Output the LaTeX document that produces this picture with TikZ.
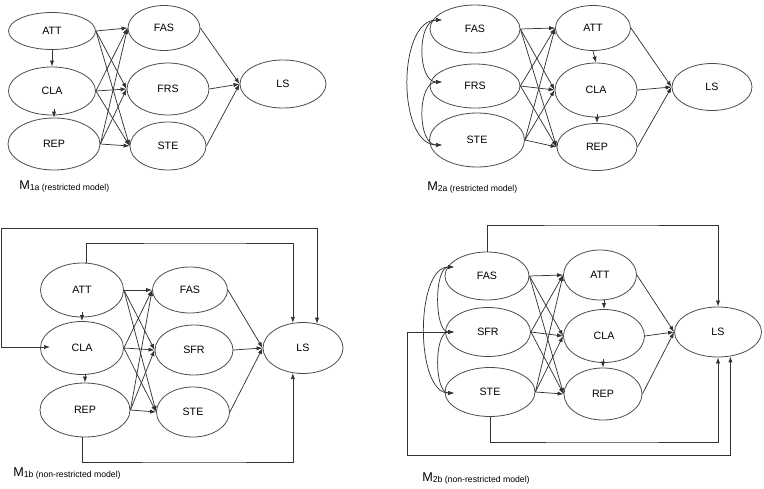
\documentclass[tikz,border=0pt]{standalone}
\usepackage{fontspec}
\setmainfont{Liberation Sans}
\usetikzlibrary{shapes.geometric,arrows.meta}
\begin{document}
\begin{tikzpicture}[x=0.75pt,y=-0.75pt,
  ell/.style 2 args={draw=black!70, line width=0.6pt, ellipse, inner sep=0pt,
    minimum width=#1*0.75pt, minimum height=#2*0.75pt, font=\fontsize{8}{9}\selectfont},
  arr/.style={-{Latex[length=4.5pt,width=3.2pt]}, line width=0.55pt, draw=black!80},
  both/.style={{Latex[length=4.5pt,width=3.2pt]}-{Latex[length=4.5pt,width=3.2pt]}, line width=0.55pt, draw=black!80},
  lab/.style={anchor=base west, inner sep=0pt}]
\useasboundingbox (0,0) rectangle (764,489);

% ---------- M1a ----------
\node[ell={87}{37}] (ATT1) at (52,31) {ATT};
\node[ell={87}{48}] (CLA1) at (52,91) {CLA};
\node[ell={92}{52}] (REP1) at (54,144) {REP};
\node[ell={72}{45}] (FAS1) at (164,28) {FAS};
\node[ell={82}{52}] (FRS1) at (168,89) {FRS};
\node[ell={76}{48}] (STE1) at (168,146) {STE};
\node[ell={86}{48}] (LS1) at (283,84) {LS};
\draw[arr] (ATT1.south) -- (CLA1.north);
\draw[arr] ([yshift=6.5pt]REP1.north) -- (REP1.north);
\foreach \s in {ATT1,CLA1,REP1}
  \foreach \t in {FAS1,FRS1,STE1}
    \draw[arr] (\s.east) -- (\t.west);
\foreach \t in {FAS1,FRS1,STE1}
  \draw[arr] (\t.east) -- (LS1.west);
\node[lab] (m1a) at (19,189) {\fontsize{9.5}{10}\selectfont M\raisebox{-1.3pt}{\fontsize{6.5}{7}\selectfont 1a (restricted model)}};

% ---------- M2a ----------
\node[ell={90}{48}] (FAS2) at (475,29) {FAS};
\node[ell={90}{44}] (FRS2) at (475,86) {FRS};
\node[ell={95}{54}] (STE2) at (477,140) {STE};
\node[ell={75}{45}] (ATT2) at (593,28) {ATT};
\node[ell={82}{54}] (CLA2) at (596,90) {CLA};
\node[ell={80}{47}] (REP2) at (597,147) {REP};
\node[ell={80}{47}] (LS2) at (712,87) {LS};
\coordinate (fas2c) at (442,20);
\coordinate (frs2c) at (442,82);
\coordinate (ste2c) at (442,145);
\draw[both] (fas2c) .. controls +(-25,0) and +(-25,0) .. (frs2c);
\draw[both] (frs2c) .. controls +(-25,0) and +(-25,0) .. (ste2c);
\draw[both] (fas2c) .. controls +(-45,0) and +(-45,0) .. (ste2c);
\draw[arr] (ATT2.south) -- (CLA2.north);
\draw[arr] ([yshift=6.5pt]REP2.north) -- (REP2.north);
\foreach \s in {FAS2,FRS2,STE2}
  \foreach \t in {ATT2,CLA2,REP2}
    \draw[arr] (\s.east) -- (\t.west);
\foreach \t in {ATT2,CLA2,REP2}
  \draw[arr] (\t.east) -- (LS2.west);
\node[lab] (m2a) at (427,190) {\fontsize{9.5}{10}\selectfont M\raisebox{-1.3pt}{\fontsize{6.5}{7}\selectfont 2a (restricted model)}};

% ---------- M1b ----------
\node[ell={83}{54}] (ATT3) at (82,290) {ATT};
\node[ell={83}{53}] (CLA3) at (82,348) {CLA};
\node[ell={90}{54}] (REP3) at (85,410) {REP};
\node[ell={75}{46}] (FAS3) at (190,290) {FAS};
\node[ell={78}{50}] (SFR3) at (194,350) {SFR};
\node[ell={73}{50}] (STE3) at (193,412) {STE};
\node[ell={80}{51}] (LS3) at (303,348) {LS};
\draw[arr] ([yshift=6.5pt]CLA3.north) -- (CLA3.north);
\draw[arr] ([yshift=6.5pt]REP3.north) -- (REP3.north);
\foreach \s in {ATT3,CLA3,REP3}
  \foreach \t in {FAS3,SFR3,STE3}
    \draw[arr] (\s.east) -- (\t.west);
\foreach \t in {FAS3,SFR3,STE3}
  \draw[arr] (\t.east) -- (LS3.west);
\coordinate (cla3in) at (50,347);
\draw[both] (cla3in) -- (1.5,347) -- (1.5,228) -| (LS3.60);
\draw[arr] ([xshift=3.5pt]ATT3.north) |- (200,243) -| (LS3.112);
\draw[arr] ([xshift=-2pt]REP3.south) |- (200,462) -| (LS3.-112);
\node[lab] (m1b) at (13,476) {\fontsize{9.5}{10}\selectfont M\raisebox{-1.3pt}{\fontsize{6.5}{7}\selectfont 1b (non-restricted model)}};

% ---------- M2b ----------
\node[ell={84}{48}] (FAS4) at (487,276) {FAS};
\node[ell={85}{49}] (SFR4) at (488,332) {SFR};
\node[ell={90}{49}] (STE4) at (490,392) {STE};
\node[ell={73}{50}] (ATT4) at (600,275) {ATT};
\node[ell={81}{53}] (CLA4) at (604,336) {CLA};
\node[ell={78}{52}] (REP4) at (603,394) {REP};
\node[ell={87}{50}] (LS4) at (718,332) {LS};
\coordinate (fas4c) at (454,267);
\coordinate (sfr4c) at (454,332);
\coordinate (ste4c) at (454,393);
\draw[both] (fas4c) .. controls +(-20,0) and +(-20,0) .. (sfr4c);
\draw[both] (sfr4c) .. controls +(-20,0) and +(-20,0) .. (ste4c);
\draw[both] (fas4c) .. controls +(-39,0) and +(-39,0) .. (ste4c);
\draw[arr] ([yshift=6.5pt]CLA4.north) -- (CLA4.north);
\draw[arr] ([yshift=6.5pt]REP4.north) -- (REP4.north);
\foreach \s in {FAS4,SFR4,STE4}
  \foreach \t in {ATT4,CLA4,REP4}
    \draw[arr] (\s.east) -- (\t.west);
\foreach \t in {ATT4,CLA4,REP4}
  \draw[arr] (\t.east) -- (LS4.west);
\draw[arr] (FAS4.north) |- (600,225) -| (LS4.north);
\draw[arr] (STE4.south) |- (600,442) -| (LS4.south);
\draw[both] (sfr4c) -- (407,332) -- (407,455) -| (LS4.-63);
\node[lab] (m2b) at (422,481) {\fontsize{9.5}{10}\selectfont M\raisebox{-1.3pt}{\fontsize{6.5}{7}\selectfont 2b (non-restricted model)}};
\end{tikzpicture}
\end{document}
